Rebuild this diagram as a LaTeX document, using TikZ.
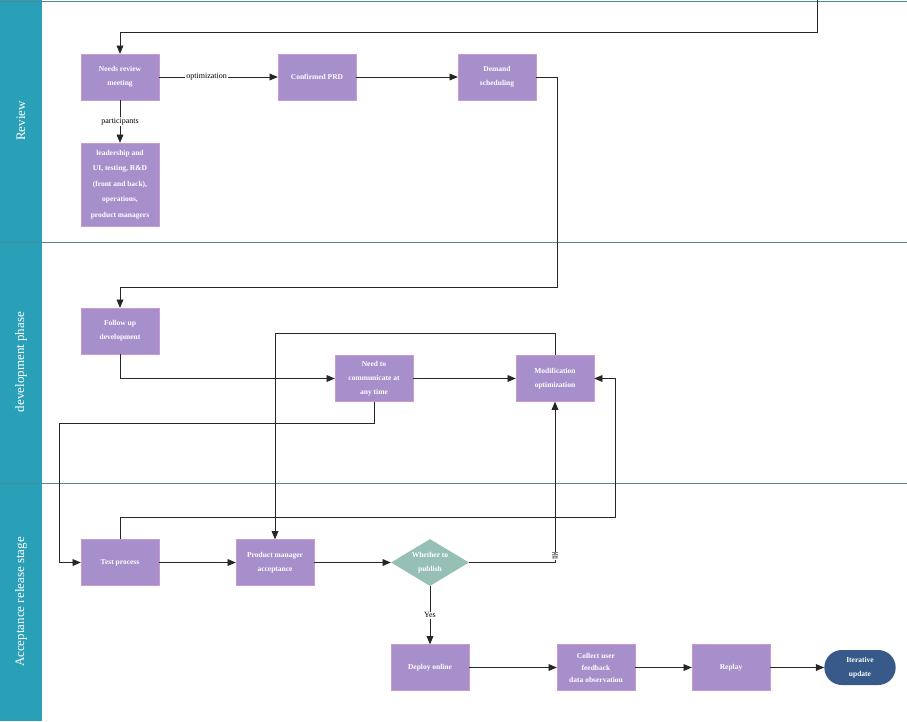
\documentclass[tikz,border=0pt]{standalone}
\usepackage{fontspec}
\setmainfont{Liberation Serif}
\newfontfamily\cjk{Noto Sans CJK SC}
\usetikzlibrary{shapes,arrows,positioning}
\definecolor{boxfill}{RGB}{167,143,204}
\definecolor{decfill}{RGB}{150,192,182}
\definecolor{termfill}{RGB}{56,90,138}
\definecolor{lanefill}{RGB}{42,160,184}
\definecolor{laneline}{RGB}{80,140,150}

\begin{document}
\begin{tikzpicture}[x=1pt,y=-1pt,
  box/.style={draw=violet!40,fill=boxfill,text=white,
    minimum width=78pt,minimum height=46pt,align=center,
    font=\fontsize{7.5}{14}\selectfont\bfseries,inner sep=1pt},
  dec/.style={diamond,fill=decfill,text=white,aspect=1.65,
    minimum width=78pt,minimum height=47pt,align=center,inner sep=0pt,
    font=\fontsize{7.5}{14}\selectfont\bfseries},
  term/.style={rounded rectangle,fill=termfill,text=white,
    minimum width=78pt,minimum height=35pt,align=center,
    font=\fontsize{7.5}{14}\selectfont\bfseries},
  lane/.style={rotate=90,text=white,font=\fontsize{13}{15}\selectfont},
  flow/.style={draw=black!85,line width=0.9pt,-triangle 45},
  lbl/.style={fill=white,inner sep=1pt,font=\fontsize{8}{9}\selectfont}]
\useasboundingbox (0,0) rectangle (907,721);
% lanes
\fill[lanefill] (0,0) rectangle (42,721);
\foreach \y in {1,242,483} \draw[laneline,line width=0.8pt] (0,\y) -- (907,\y);
\node[lane] (l1) at (21,121) {Review};
\node[lane] (l2) at (21,362) {development phase};
\node[lane] (l3) at (21,602) {Acceptance release stage};

% nodes
\node[box] (review) at (120,77) {Needs review\\meeting};
\node[box] (prd) at (317,77) {Confirmed PRD};
\node[box] (sched) at (497,77) {Demand\\scheduling};
\node[box,minimum height=83pt,font=\fontsize{7.5}{15.5}\selectfont\bfseries] (part) at (120,184.5) {leadership and\\UI, testing, R\&D\\(front and back),\\operations,\\product managers};
\node[box] (follow) at (120,331) {Follow up\\development};
\node[box] (comm) at (374,378.5) {Need to\\communicate at\\any time};
\node[box] (modif) at (555,378.5) {Modification\\optimization};
\node[box] (test) at (120,562.5) {Test process};
\node[box] (pm) at (275,562.5) {Product manager\\acceptance};
\node[dec] (pub) at (430,562.5) {Whether to\\publish};
\node[box] (deploy) at (430,667.5) {Deploy online};
\node[box,font=\fontsize{7.5}{12}\selectfont\bfseries] (collect) at (596,667.5) {Collect user\\feedback\\data observation};
\node[box] (replay) at (731,667.5) {Replay};
\node[term] (iter) at (860,667.5) {Iterative\\update};
\coordinate (in) at (817,0);

% connectors
\draw[flow] (in) |- (120,32) -- (review.north);
\draw[flow] (review) -- node[lbl,pos=0.4]{optimization} (prd);
\draw[flow] (prd) -- (sched);
\draw[flow] (sched.east) -| (557,287) -| (follow.north);
\draw[flow] (review) -- node[lbl]{participants} (part);
\draw[flow] (follow.south) |- (comm.west);
\draw[flow] (comm) -- (modif);
\draw[flow] (comm.south) |- (59,423) |- (test.west);
\draw[flow] (modif.north) |- (275,333) -- (pm.north);
\draw[flow] (test) -- (pm);
\draw[flow] (pm) -- (pub);
\draw[flow] (pub.east) -| node[pos=0.52,lbl]{\cjk\fontsize{7}{8}\selectfont 否} (modif.south);
\draw[flow] (test.north) |- (615,517) |- (modif.east);
\draw[flow] (pub) -- node[lbl]{Yes} (deploy);
\draw[flow] (deploy) -- (collect);
\draw[flow] (collect) -- (replay);
\draw[flow] (replay) -- (iter);
\end{tikzpicture}
\end{document}
